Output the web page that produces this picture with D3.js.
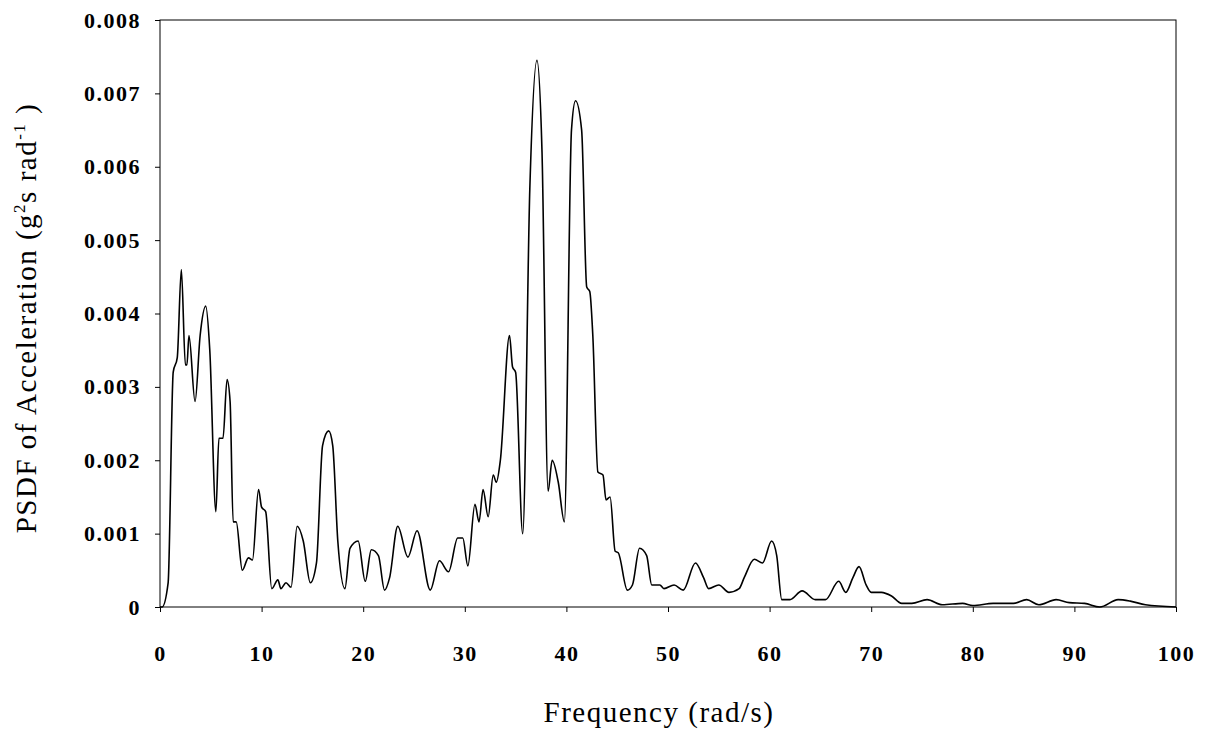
<!DOCTYPE html>
<html>
<head>
<meta charset="utf-8">
<script src="https://cdn.jsdelivr.net/npm/d3@7"></script>
<style>
  body { margin: 0; background: #fff; }
  text { font-family: "Liberation Serif", "DejaVu Serif", serif; }
</style>
</head>
<body>
<svg id="svg" width="1207" height="733"></svg>
<script>
// frequency (rad/s) and PSDF values
var freq = [0, 0.2, 0.8, 1.3, 1.7, 2.1, 2.5, 2.65, 2.85, 3.45, 3.95, 4.5, 4.9, 5.5, 5.8, 6.2, 6.6, 6.9, 7.2, 7.5,
  8.1, 8.7, 9.1, 9.7, 10.0, 10.4, 11.0, 11.6, 11.9, 12.4, 12.9, 13.5, 14.1, 14.8, 15.4, 16.0, 16.6, 17.0, 17.5,
  18.2, 18.7, 19.5, 20.2, 20.8, 21.5, 22.1, 22.6, 23.4, 24.4, 25.3, 26.6, 27.5, 28.4, 29.3, 29.8, 30.3, 31.0,
  31.4, 31.8, 32.3, 32.8, 33.1, 33.5, 34.4, 34.7, 35.0, 35.7, 36.4, 37.1, 37.6, 38.2, 38.6, 39.2, 39.8, 40.5,
  40.9, 41.5, 42.0, 42.3, 42.6, 43.1, 43.6, 43.9, 44.3, 44.8, 45.1, 46.0, 46.5, 47.2, 47.9, 48.4, 49.2, 49.6,
  50.6, 51.5, 52.7, 53.5, 54.0, 55.0, 56.0, 57.0, 57.5, 58.5, 59.3, 60.2, 60.7, 61.2, 62.0, 63.2, 64.5, 65.5,
  66.8, 67.5, 68.2, 68.8, 69.5, 70.0, 71.0, 72.0, 73.0, 74.0, 75.5, 77.0, 79.0, 80.0, 82.0, 84.0, 85.3, 86.5,
  88.2, 89.5, 91.0, 92.5, 94.3, 95.5, 97.0, 100];
var psdf = [0, 0, 0.00033, 0.0032, 0.0034, 0.0046, 0.0033, 0.0033, 0.0037, 0.0028, 0.0037, 0.0041, 0.0035, 0.0013,
  0.0023, 0.0023, 0.0031, 0.0028, 0.00116, 0.00116, 0.0005, 0.00067, 0.00064, 0.0016, 0.00136, 0.0013, 0.00025,
  0.00037, 0.00025, 0.00033, 0.00027, 0.0011, 0.0009, 0.00033, 0.0006, 0.0022, 0.0024, 0.0022, 0.0009, 0.00025,
  0.0008, 0.0009, 0.00035, 0.00078, 0.0007, 0.00023, 0.0004, 0.0011, 0.00068, 0.00104, 0.00023, 0.00063, 0.00048,
  0.00094, 0.00094, 0.00056, 0.0014, 0.00116, 0.0016, 0.00123, 0.0018, 0.0017, 0.002, 0.0037, 0.00327, 0.0032,
  0.001, 0.0057, 0.00745, 0.0062, 0.00158, 0.002, 0.0017, 0.00116, 0.0065, 0.0069, 0.0065, 0.00436, 0.0043,
  0.0037, 0.00184, 0.0018, 0.00146, 0.0015, 0.00076, 0.00074, 0.00023, 0.0003, 0.0008, 0.0007, 0.0003, 0.0003,
  0.00025, 0.0003, 0.00023, 0.0006, 0.0004, 0.00025, 0.0003, 0.0002, 0.00025, 0.0004, 0.00065, 0.0006, 0.0009,
  0.0007, 0.0001, 0.0001, 0.00022, 0.0001, 0.0001, 0.00035, 0.0002, 0.0004, 0.00055, 0.0003, 0.0002, 0.0002,
  0.00015, 0.00005, 0.00005, 0.0001, 0.00003, 0.00005, 0.00002, 0.00005, 0.00005, 0.0001, 0.00003, 0.0001,
  0.00006, 0.00005, 0, 0.0001, 0.00008, 0.00003, 0];
var xTicks = [0, 10, 20, 30, 40, 50, 60, 70, 80, 90, 100];
var yTicks = [0, 0.001, 0.002, 0.003, 0.004, 0.005, 0.006, 0.007, 0.008];

(function() {
  'use strict';
  var svg = d3.select("#svg");
  var pl = 160, pr = 1176, pt = 20, pb = 607;

  var x = d3.scaleLinear().domain([0, 100]).range([pl, pr]);
  var y = d3.scaleLinear().domain([0, 0.008]).range([pb, pt]);

  // plot frame
  svg.append("rect")
    .attr("x", pl).attr("y", pt)
    .attr("width", pr - pl).attr("height", pb - pt)
    .attr("fill", "none").attr("stroke", "#000").attr("stroke-width", 1);

  var xAxis = svg.append("g")
    .attr("transform", "translate(0," + pb + ")")
    .call(d3.axisBottom(x).tickValues(xTicks).tickSize(5).tickSizeOuter(0).tickPadding(33));
  var yAxis = svg.append("g")
    .attr("transform", "translate(" + pl + ",0)")
    .call(d3.axisLeft(y).tickValues(yTicks).tickSize(5).tickSizeOuter(0).tickPadding(14)
      .tickFormat(function(d) { return d === 0 ? "0" : d3.format(".3f")(d); }));

  [xAxis, yAxis].forEach(function(a) {
    a.select(".domain").remove();
    a.selectAll("text")
      .style("font-family", "'Liberation Serif', serif")
      .style("font-size", "22px").style("font-weight", "bold")
      .style("letter-spacing", "1.5px").attr("fill", "#000");
  });

  var line = d3.line()
    .curve(d3.curveMonotoneX)
    .x(function(d, i) { return x(freq[i]); })
    .y(function(d) { return y(d); });

  svg.append("path")
    .attr("d", line(psdf))
    .attr("fill", "none").attr("stroke", "#000").attr("stroke-width", 1.6);

  svg.append("text")
    .attr("x", 659).attr("y", 722)
    .attr("text-anchor", "middle").style("font-size", "29px").style("letter-spacing", "1.5px")
    .text("Frequency (rad/s)");

  var yl = svg.append("text")
    .attr("transform", "translate(36,318) rotate(-90)")
    .attr("text-anchor", "middle").style("font-size", "29px").style("letter-spacing", "1.5px");
  yl.append("tspan").text("PSDF of Acceleration (g");
  yl.append("tspan").attr("dy", -11).style("font-size", "17px").text("2");
  yl.append("tspan").attr("dy", 11).text("s rad");
  yl.append("tspan").attr("dy", -11).style("font-size", "17px").text("-1");
  yl.append("tspan").attr("dy", 11).text(" )");
}());
</script>
</body>
</html>
